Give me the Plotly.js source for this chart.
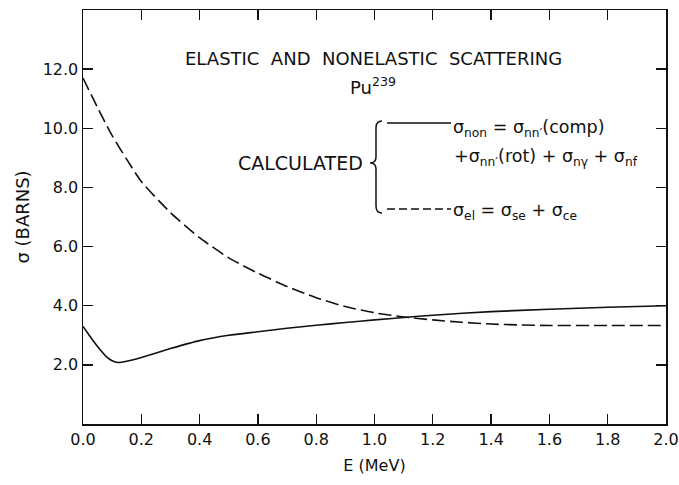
<!DOCTYPE html>
<html>
<head>
<meta charset="utf-8">
<script src="https://cdn.plot.ly/plotly-3.0.1.min.js"></script>
<style>html,body{margin:0;padding:0;background:#fff;}#chart{width:679px;height:485px;}</style>
</head>
<body>
<div id="chart"></div>
<script>
// Nonelastic cross section (solid)
const E_non = [0, 0.02, 0.05, 0.08, 0.10, 0.12, 0.15, 0.20, 0.30, 0.40, 0.50, 0.60, 0.70, 0.80, 0.90, 1.00, 1.10, 1.20, 1.40, 1.60, 1.80, 2.00];
const sigma_non = [3.30, 3.02, 2.62, 2.28, 2.14, 2.08, 2.12, 2.25, 2.55, 2.82, 3.00, 3.12, 3.24, 3.34, 3.43, 3.52, 3.60, 3.68, 3.80, 3.88, 3.95, 4.00];
// Elastic cross section (dashed)
const E_el = [0, 0.05, 0.10, 0.15, 0.20, 0.30, 0.40, 0.50, 0.60, 0.70, 0.80, 0.90, 1.00, 1.10, 1.20, 1.30, 1.40, 1.50, 1.60, 1.80, 2.00];
const sigma_el = [11.70, 10.70, 9.75, 8.95, 8.20, 7.15, 6.30, 5.62, 5.10, 4.65, 4.27, 3.97, 3.76, 3.62, 3.52, 3.44, 3.38, 3.35, 3.33, 3.33, 3.33];

const xTickVals = [0, 0.2, 0.4, 0.6, 0.8, 1.0, 1.2, 1.4, 1.6, 1.8, 2.0];
const xTickText = ["0.0", "0.2", "0.4", "0.6", "0.8", "1.0", "1.2", "1.4", "1.6", "1.8", "2.0"];
const yTickVals = [2, 4, 6, 8, 10, 12];
const yTickText = ["2.0", "4.0", "6.0", "8.0", "10.0", "12.0"];

const W = 679, H = 485;
const M = {l: 83, r: 13, t: 10, b: 61};
const pw = W - M.l - M.r, ph = H - M.t - M.b;
const px = x => (x - M.l) / pw;
const py = y => (H - M.b - y) / ph;

const FONT = "DejaVu Sans, Liberation Sans, sans-serif";
const ink = "#111";

const traces = [
  {x: E_non, y: sigma_non, mode: "lines", line: {color: ink, width: 1.6, shape: "spline", smoothing: 0.6}, hoverinfo: "skip"},
  {x: E_el, y: sigma_el, mode: "lines", line: {color: ink, width: 1.6, dash: "13px,5px", shape: "spline", smoothing: 0.6}, hoverinfo: "skip"}
];

// brace path in pixel coordinates converted to paper
function P(x, y) { return px(x).toFixed(5) + "," + py(y).toFixed(5); }
const brace = "M" + P(382, 121) + " Q" + P(376, 121) + " " + P(376, 128) +
  " L" + P(376, 157) + " Q" + P(376, 163) + " " + P(370, 163) +
  " Q" + P(376, 163) + " " + P(376, 169) +
  " L" + P(376, 206) + " Q" + P(376, 213) + " " + P(382, 213);

const shapes = [
  {type: "path", xref: "paper", yref: "paper", path: brace, line: {color: ink, width: 1.5}},
  {type: "line", xref: "paper", yref: "paper", x0: px(387), x1: px(451), y0: py(123), y1: py(123), line: {color: ink, width: 1.5}},
  {type: "line", xref: "paper", yref: "paper", x0: px(387), x1: px(451), y0: py(209), y1: py(209), line: {color: ink, width: 1.5, dash: "8px,4px"}}
];

const tf = {family: FONT, size: 18, color: ink};
const lf = {family: FONT, size: 17.5, color: ink};
const annotations = [
  {text: "ELASTIC  AND  NONELASTIC  SCATTERING", x: px(373), y: py(59), xref: "paper", yref: "paper", showarrow: false, font: tf, xanchor: "center", yanchor: "middle"},
  {text: "Pu<sup>239</sup>", x: px(373), y: py(86), xref: "paper", yref: "paper", showarrow: false, font: tf, xanchor: "center", yanchor: "middle"},
  {text: "CALCULATED", x: px(365), y: py(163), xref: "paper", yref: "paper", showarrow: false, font: {family: FONT, size: 19, color: ink}, xanchor: "right", yanchor: "middle"},
  {text: "σ<sub>non</sub> = σ<sub>nn′</sub>(comp)", x: px(451), y: py(128), xref: "paper", yref: "paper", showarrow: false, font: lf, xanchor: "left", yanchor: "middle"},
  {text: "+σ<sub>nn′</sub>(rot) + σ<sub>nγ</sub> + σ<sub>nf</sub>", x: px(452), y: py(157), xref: "paper", yref: "paper", showarrow: false, font: lf, xanchor: "left", yanchor: "middle"},
  {text: "σ<sub>el</sub> = σ<sub>se</sub> + σ<sub>ce</sub>", x: px(451), y: py(211), xref: "paper", yref: "paper", showarrow: false, font: lf, xanchor: "left", yanchor: "middle"}
];

const axisCommon = {
  showgrid: false, zeroline: false, showline: true, linecolor: ink, linewidth: 1.5,
  ticks: "inside", ticklen: 10, tickwidth: 1.3, tickcolor: ink, mirror: "ticks",
  tickfont: {family: FONT, size: 16, color: ink}
};

const layout = {
  width: W, height: H,
  margin: M,
  paper_bgcolor: "#fff", plot_bgcolor: "#fff",
  showlegend: false,
  xaxis: Object.assign({}, axisCommon, {
    range: [0, 2.0], tickvals: xTickVals, ticktext: xTickText,
    title: {text: "E (MeV)", font: {family: FONT, size: 16, color: ink}, standoff: 12}
  }),
  yaxis: Object.assign({}, axisCommon, {
    range: [0, 14], tickvals: yTickVals, ticktext: yTickText,
    title: {text: "σ (BARNS)", font: {family: FONT, size: 18, color: ink}, standoff: 8}
  }),
  shapes: shapes,
  annotations: annotations
};

Plotly.newPlot("chart", traces, layout, {staticPlot: true, displayModeBar: false});
</script>
</body>
</html>
